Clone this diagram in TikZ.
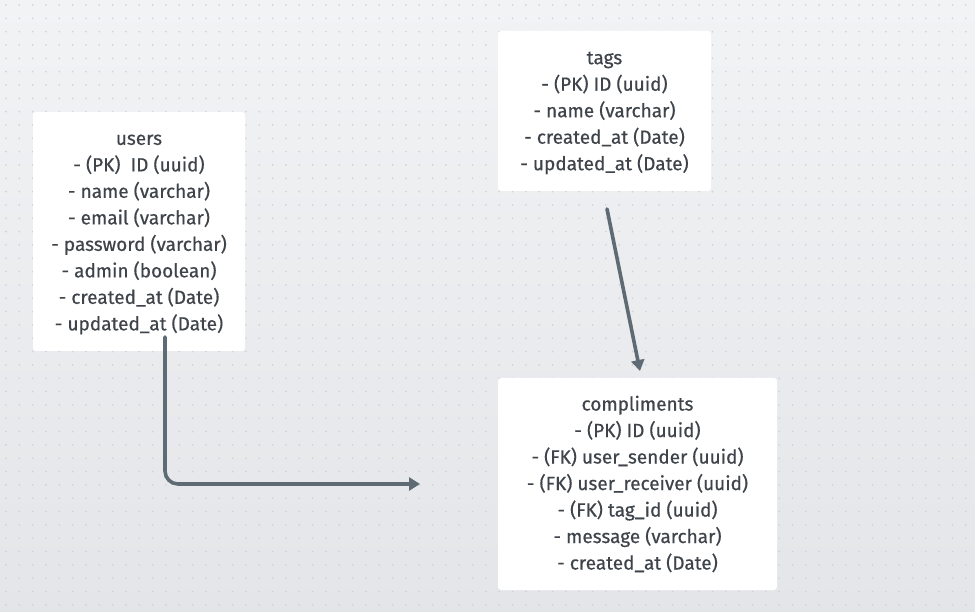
\documentclass[tikz,border=0pt]{standalone}
\usepackage{fontspec}
\setmainfont{Fira Sans}
\newfontface\tablefont{Fira Sans}[FakeBold=0.5]
\usetikzlibrary{arrows.meta}
\definecolor{bgtop}{HTML}{F2F3F5}
\definecolor{bgbot}{HTML}{E3E5E8}
\definecolor{dotc}{HTML}{CDD1D6}
\definecolor{txt}{HTML}{3E444A}
\definecolor{link}{HTML}{5F6B74}
\tikzset{
  table/.style={draw=none, fill=white, rounded corners=3pt, inner sep=0pt},
  tabletext/.style={align=center, text=txt, inner sep=0pt,
    font=\tablefont\fontsize{19}{26.5}\selectfont},
  conn/.style={draw=link, line width=3.6pt, line cap=round,
    -{Triangle[length=11pt,width=13pt]}, rounded corners=13pt},
}
\begin{document}
\begin{tikzpicture}[x=1pt,y=-1pt]
\useasboundingbox (0,0) rectangle (975,612);
\shade[top color=bgtop, bottom color=bgbot] (0,0) rectangle (975,612);
\foreach \i in {0,...,73}{
  \foreach \j in {0,...,46}{
    \fill[dotc] (6+\i*13.33, 5+\j*13.33) circle (0.9);
  }
}
\node[table, minimum width=212pt, minimum height=239pt] (users) at (139,231.5) {};
\node[tabletext] (userstext) at ([yshift=-3pt]users.center)
  {users\\- (PK)\ \ ID (uuid)\\- name (varchar)\\- email (varchar)\\- password (varchar)\\- admin (boolean)\\- created\_at (Date)\\- updated\_at (Date)};
\node[table, minimum width=213pt, minimum height=160pt] (tags) at (604.5,111) {};
\node[tabletext] (tagstext) at ([yshift=-2pt]tags.center)
  {tags\\- (PK) ID (uuid)\\- name (varchar)\\- created\_at (Date)\\- updated\_at (Date)};
\node[table, minimum width=279pt, minimum height=212pt] (compliments) at (637.5,484) {};
\node[tabletext] (complimentstext) at ([yshift=0pt]compliments.center)
  {compliments\\- (PK) ID (uuid)\\- (FK) user\_sender (uuid)\\- (FK) user\_receiver (uuid)\\- (FK) tag\_id (uuid)\\- message (varchar)\\- created\_at (Date)};
\coordinate (u1) at (165,337);
\coordinate (u2) at (420,484);
\coordinate (t1) at (607,209);
\coordinate (c1) at (640,371);
\draw[conn] (u1) |- (u2);
\draw[conn] (t1) -- (c1);
\end{tikzpicture}
\end{document}
